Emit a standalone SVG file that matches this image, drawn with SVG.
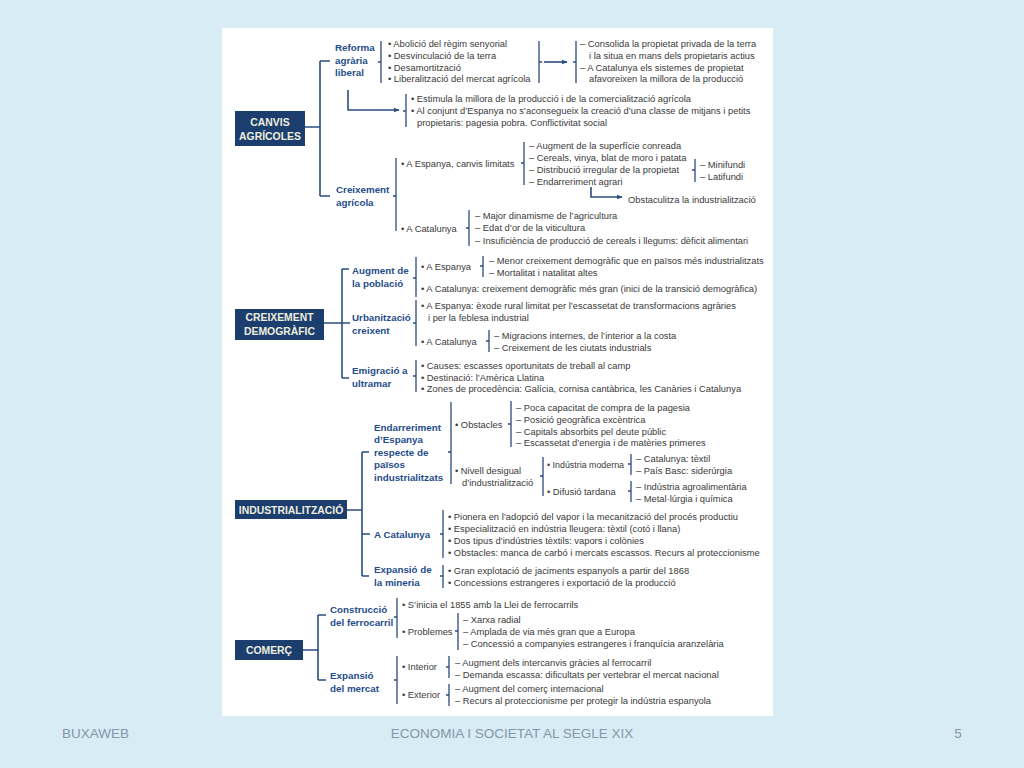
<svg xmlns="http://www.w3.org/2000/svg" width="1024" height="768" viewBox="0 0 1024 768">
<style>
.t{font-family:"Liberation Sans",Arial,sans-serif;font-size:9.35px;fill:#3a3a3a}
.b{font-family:"Liberation Sans",Arial,sans-serif;font-size:9.8px;font-weight:bold;fill:#1f4d8a}
.bt{font-family:"Liberation Sans",Arial,sans-serif;font-size:10.4px;font-weight:bold;fill:#efeedd;text-anchor:middle}
.bx{fill:#1b3e6f}
.ln{stroke:#2b4c7e;stroke-width:1.6;fill:none}
.br{stroke:#2b4c7e;stroke-width:1.3;fill:none}
.f{font-family:"Liberation Sans",Arial,sans-serif;font-size:13.5px;fill:#8497a8}
</style>
<defs>
<marker id="ah" viewBox="0 0 10 10" refX="9" refY="5" markerWidth="6" markerHeight="6" orient="auto" markerUnits="userSpaceOnUse"><path d="M0,1 L10,5 L0,9 z" fill="#2b4c7e"/></marker>
</defs>
<rect width="1024" height="768" fill="#d8ecf5"/>
<rect x="222" y="28" width="551" height="688" fill="#ffffff"/>

<g id="connectors">
<path class="ln" d="M305 127 H320 M320 61 V196 M320 61 H330 M320 196 H330"/>
<path class="ln" d="M348 90 V110 H399" marker-end="url(#ah)"/>
<path class="ln" d="M544 62 H567" marker-end="url(#ah)"/>
<path class="ln" d="M591 187 V197 H622" marker-end="url(#ah)"/>
<path class="br" d="M381 41 V83 M381 62 h-3 M539 41 V83 M539 62 h3 M576 41 V83 M576 62 h-3 M406 94 V127 M406 111 h-3 M396 158 V231 M396 196 h-3 M524 142 V185 M524 163 h-3 M695 159 V182 M695 170 h-3 M469 210 V246 M469 228 h-3"/>
<path class="ln" d="M324 323 H350 M342 269 V378 M342 269 H349 M342 378 H349"/>
<path class="br" d="M416 257 V297 M416 278 h-3 M483 256 V277 M483 266 h-3 M416 300 V346 M416 323 h-3 M489 330 V352 M489 341 h-3 M416 360 V392 M416 376 h-3"/>
<path class="ln" d="M347 510 H362 M362 452 V576 M362 452 H369 M362 534 H370 M362 576 H369"/>
<path class="br" d="M451 402 V484 M451 452 h-3 M511 401 V447 M511 424 h-3 M543 457 V496 M543 476 h-3 M631 454 V475 M631 464 h-3 M631 481 V502 M631 491 h-3 M443 510 V558 M443 534 h-3 M443 565 V588 M443 576 h-3"/>
<path class="ln" d="M303 650 H318 M318 615 V680 M318 615 H326 M318 680 H326"/>
<path class="br" d="M397 598 V638 M397 617 h-3 M458 613 V650 M458 631 h-3 M397 656 V704 M397 680 h-3 M449 656 V678 M449 667 h-3 M449 684 V706 M449 695 h-3"/>
</g>

<g id="canvis-agricoles">
<rect class="bx" x="235" y="111" width="70" height="35"/>
<text class="bt" x="270" y="126">CANVIS</text>
<text class="bt" x="270" y="140">AGRÍCOLES</text>
</g>
<g id="reforma-agraria">
<text class="b" x="335" y="51">Reforma</text>
<text class="b" x="335" y="63.5">agrària</text>
<text class="b" x="335" y="76">liberal</text>
<text class="t" x="388" y="47.4">• Abolició del règim senyorial</text>
<text class="t" x="388" y="59.4">• Desvinculació de la terra</text>
<text class="t" x="388" y="71">• Desamortització</text>
<text class="t" x="388" y="82.4">• Liberalització del mercat agrícola</text>
<text class="t" x="580" y="47.4">– Consolida la propietat privada de la terra</text>
<text class="t" x="589" y="59.4">i la situa en mans dels propietaris actius</text>
<text class="t" x="580" y="71">– A Catalunya els sistemes de propietat</text>
<text class="t" x="589" y="82.4">afavoreixen la millora de la producció</text>
<text class="t" x="411" y="102.4">• Estimula la millora de la producció i de la comercialització agrícola</text>
<text class="t" x="411" y="114.4">• Al conjunt d’Espanya no s’aconsegueix la creació d’una classe de mitjans i petits</text>
<text class="t" x="417" y="126.4">propietaris: pagesia pobra. Conflictivitat social</text>
</g>
<g id="creixement-agricola">
<text class="b" x="336" y="193">Creixement</text>
<text class="b" x="336" y="206">agrícola</text>
<text class="t" x="401" y="166.5">• A Espanya, canvis limitats</text>
<text class="t" x="529" y="148.5">– Augment de la superfície conreada</text>
<text class="t" x="529" y="160.5">– Cereals, vinya, blat de moro i patata</text>
<text class="t" x="529" y="172.5">– Distribució irregular de la propietat</text>
<text class="t" x="529" y="184.5">– Endarreriment agrari</text>
<text class="t" x="700" y="167.5">– Minifundi</text>
<text class="t" x="700" y="179.5">– Latifundi</text>
<text class="t" x="628" y="202.5">Obstaculitza la industrialització</text>
<text class="t" x="401" y="231.5">• A Catalunya</text>
<text class="t" x="475" y="218.5">– Major dinamisme de l’agricultura</text>
<text class="t" x="475" y="230.5">– Edat d’or de la viticultura</text>
<text class="t" x="475" y="243.5">– Insuficiència de producció de cereals i llegums: dèficit alimentari</text>
</g>

<g id="creixement-demografic">
<rect class="bx" x="235" y="309" width="89" height="31"/>
<text class="bt" x="279.5" y="321">CREIXEMENT</text>
<text class="bt" x="279.5" y="335">DEMOGRÀFIC</text>
</g>
<g id="augment-poblacio">
<text class="b" x="352" y="273.5">Augment de</text>
<text class="b" x="352" y="286.5">la població</text>
<text class="t" x="421" y="269.5">• A Espanya</text>
<text class="t" x="489" y="263.5">– Menor creixement demogràfic que en països més industrialitzats</text>
<text class="t" x="489" y="275.5">– Mortalitat i natalitat altes</text>
<text class="t" x="421" y="291.5">• A Catalunya: creixement demogràfic més gran (inici de la transició demogràfica)</text>
</g>
<g id="urbanitzacio">
<text class="b" x="352" y="320.5">Urbanització</text>
<text class="b" x="352" y="333.5">creixent</text>
<text class="t" x="421" y="308.5">• A Espanya: èxode rural limitat per l’escassetat de transformacions agràries</text>
<text class="t" x="428" y="320.5">i per la feblesa industrial</text>
<text class="t" x="421" y="344.5">• A Catalunya</text>
<text class="t" x="494" y="338.5">– Migracions internes, de l’interior a la costa</text>
<text class="t" x="494" y="350.5">– Creixement de les ciutats industrials</text>
</g>
<g id="emigracio">
<text class="b" x="352" y="373.5">Emigració a</text>
<text class="b" x="352" y="386.5">ultramar</text>
<text class="t" x="421" y="368.5">• Causes: escasses oportunitats de treball al camp</text>
<text class="t" x="421" y="380.5">• Destinació: l’Amèrica Llatina</text>
<text class="t" x="421" y="391.5">• Zones de procedència: Galícia, cornisa cantàbrica, les Canàries i Catalunya</text>
</g>

<g id="industrialitzacio">
<rect class="bx" x="235" y="500" width="112" height="19"/>
<text class="bt" x="291" y="513.5">INDUSTRIALITZACIÓ</text>
</g>
<g id="endarreriment">
<text class="b" x="374" y="430.5">Endarreriment</text>
<text class="b" x="374" y="443">d’Espanya</text>
<text class="b" x="374" y="455.5">respecte de</text>
<text class="b" x="374" y="468">països</text>
<text class="b" x="374" y="480.5">industrialitzats</text>
<text class="t" x="455" y="427.5">• Obstacles</text>
<text class="t" x="516" y="410.5">– Poca capacitat de compra de la pagesia</text>
<text class="t" x="516" y="422.5">– Posició geogràfica excèntrica</text>
<text class="t" x="516" y="434.5">– Capitals absorbits pel deute públic</text>
<text class="t" x="516" y="445.5">– Escassetat d’energia i de matèries primeres</text>
<text class="t" x="455" y="473.5">• Nivell desigual</text>
<text class="t" x="462" y="485.5">d’industrialització</text>
<text class="t" x="547" y="467.5" textLength="77" lengthAdjust="spacingAndGlyphs">• Indústria moderna</text>
<text class="t" x="636" y="461.5">– Catalunya: tèxtil</text>
<text class="t" x="636" y="473.5">– País Basc: siderúrgia</text>
<text class="t" x="547" y="494.5">• Difusió tardana</text>
<text class="t" x="636" y="489.5">– Indústria agroalimentària</text>
<text class="t" x="636" y="501.5">– Metal·lúrgia i química</text>
</g>
<g id="a-catalunya">
<text class="b" x="374" y="537.5">A Catalunya</text>
<text class="t" x="448" y="519.5">• Pionera en l’adopció del vapor i la mecanització del procés productiu</text>
<text class="t" x="448" y="531.5">• Especialització en indústria lleugera: tèxtil (cotó i llana)</text>
<text class="t" x="448" y="543.5">• Dos tipus d’indústries tèxtils: vapors i colònies</text>
<text class="t" x="448" y="555.5">• Obstacles: manca de carbó i mercats escassos. Recurs al proteccionisme</text>
</g>
<g id="expansio-mineria">
<text class="b" x="374" y="572.5">Expansió de</text>
<text class="b" x="374" y="585.5">la mineria</text>
<text class="t" x="448" y="573.5">• Gran explotació de jaciments espanyols a partir del 1868</text>
<text class="t" x="448" y="585.5">• Concessions estrangeres i exportació de la producció</text>
</g>

<g id="comerc">
<rect class="bx" x="235" y="640" width="68" height="20"/>
<text class="bt" x="269" y="654">COMERÇ</text>
</g>
<g id="ferrocarril">
<text class="b" x="330" y="612.5">Construcció</text>
<text class="b" x="330" y="625.5">del ferrocarril</text>
<text class="t" x="402" y="607.5">• S’inicia el 1855 amb la Llei de ferrocarrils</text>
<text class="t" x="402" y="634.5">• Problemes</text>
<text class="t" x="463" y="622.5">– Xarxa radial</text>
<text class="t" x="463" y="634.5">– Amplada de via més gran que a Europa</text>
<text class="t" x="463" y="646.5">– Concessió a companyies estrangeres i franquícia aranzelària</text>
</g>
<g id="mercat">
<text class="b" x="330" y="678.5">Expansió</text>
<text class="b" x="330" y="691.5">del mercat</text>
<text class="t" x="402" y="669.5">• Interior</text>
<text class="t" x="455" y="665.5">– Augment dels intercanvis gràcies al ferrocarril</text>
<text class="t" x="455" y="677.5">– Demanda escassa: dificultats per vertebrar el mercat nacional</text>
<text class="t" x="402" y="697.5">• Exterior</text>
<text class="t" x="455" y="691.5">– Augment del comerç internacional</text>
<text class="t" x="455" y="703.5">– Recurs al proteccionisme per protegir la indústria espanyola</text>
</g>

<g id="footer">
<text class="f" x="62" y="738">BUXAWEB</text>
<text class="f" x="512" y="738" text-anchor="middle">ECONOMIA I SOCIETAT AL SEGLE XIX</text>
<text class="f" x="958" y="738" text-anchor="middle">5</text>
</g>
</svg>
